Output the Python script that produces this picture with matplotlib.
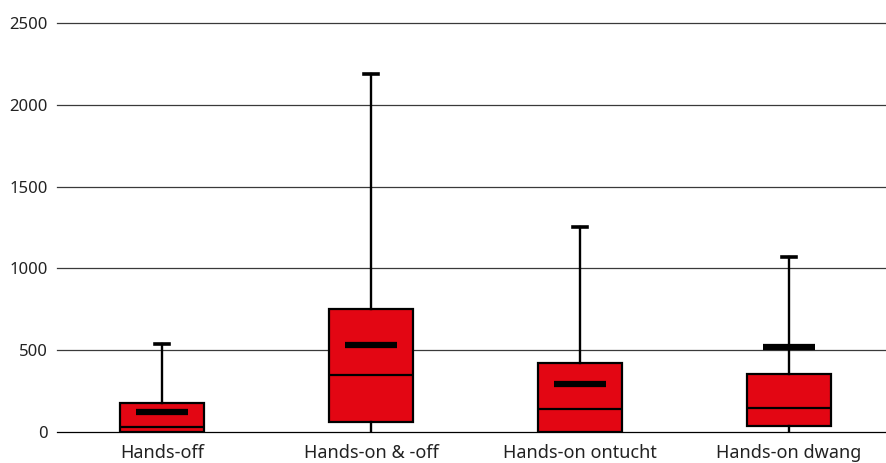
import matplotlib
matplotlib.use("Agg")
import matplotlib.pyplot as plt

categories = ["Hands-off", "Hands-on & -off", "Hands-on ontucht", "Hands-on dwang"]
whislo = [0, 0, 0, 0]
q1 = [0, 63, 0, 37]
med = [29, 350, 143, 147]
q3 = [179, 752, 420, 356]
whishi = [536, 2188, 1255, 1070]
means = [120, 534, 291, 518]
yticks = [0, 500, 1000, 1500, 2000, 2500]

red = "#E30613"
W, H = 887, 463
fig = plt.figure(figsize=(W / 100, H / 100), dpi=100)
left = 57.5 / W
width = 836 / W
bottom = (H - 432) / H
top = (H - 23) / H
ax = fig.add_axes([left, bottom, width, top - bottom])

stats = []
for i, c in enumerate(categories):
    stats.append(dict(label=c, whislo=whislo[i], q1=q1[i], med=med[i],
                      q3=q3[i], whishi=whishi[i], fliers=[]))

pos = list(range(len(categories)))
for y in yticks:
    ax.axhline(y, color="#000000" if y == 0 else "#3a3a3a", lw=0.9,
               zorder=0, clip_on=False)

res = ax.bxp(stats, positions=pos, widths=0.40, patch_artist=True, showfliers=False,
             boxprops=dict(facecolor=red, edgecolor="black", linewidth=1.6),
             medianprops=dict(color="black", linewidth=1.6),
             whiskerprops=dict(color="black", linewidth=1.7),
             capprops=dict(color="black", linewidth=2.6),
             capwidths=0.07, zorder=2)
# hide lower caps (they coincide with the zero line in the reference)
for k, cap in enumerate(res["caps"]):
    if k % 2 == 0:
        cap.set_visible(False)

ax.hlines(means, [p - 0.125 for p in pos], [p + 0.125 for p in pos],
          colors="black", linewidth=4.5, zorder=3)

ax.set_xlim(-0.5, 3.5)
ax.set_ylim(0, 2500)
ax.set_yticks(yticks)
ax.set_yticklabels([str(v) for v in yticks])
ax.set_xticks(pos)
ax.set_xticklabels(categories)
for s in ax.spines.values():
    s.set_visible(False)
ax.tick_params(axis="both", length=0, colors="#222222")
ax.tick_params(axis="x", pad=9, labelsize=13)
ax.tick_params(axis="y", pad=7, labelsize=12)
for lab in ax.get_xticklabels() + ax.get_yticklabels():
    lab.set_fontfamily("Noto Sans")

fig.savefig("out.png", dpi=100)
